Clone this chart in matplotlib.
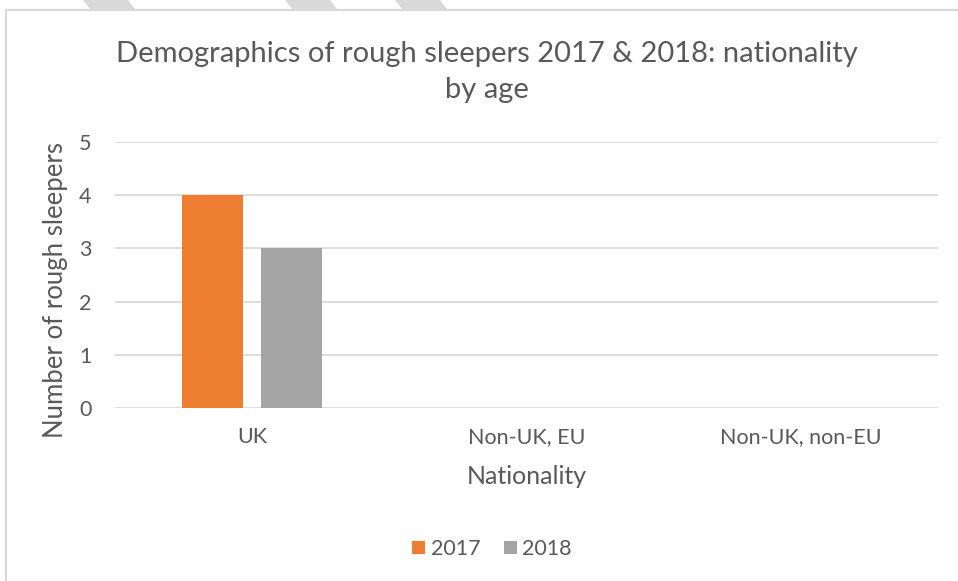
import matplotlib
matplotlib.use("Agg")
import matplotlib.pyplot as plt
from matplotlib.patches import Polygon, Rectangle
import numpy as np

categories = ["UK", "Non-UK, EU", "Non-UK, non-EU"]
series_names = ["2017", "2018"]
values_2017 = [4, 0, 0]
values_2018 = [3, 0, 0]
yticks = [0, 1, 2, 3, 4, 5]

title = "Demographics of rough sleepers 2017 & 2018: nationality\nby age"
xlabel = "Nationality"
ylabel = "Number of rough sleepers"

colors = ["#ED7D31", "#A5A5A5"]
text_color = "#595959"
grid_color = "#D9D9D9"

plt.rcParams['font.family'] = ['Lato', 'DejaVu Sans']

W, H = 958, 581
fig = plt.figure(figsize=(W / 100, H / 100), dpi=100)

# decorative stripes at top and frame
for x0 in [83, 285, 395]:
    fig.patches.append(Polygon([[(x0) / W, 1], [(x0 + 45) / W, 1],
                                [(x0 + 52) / W, 1 - 9 / H], [(x0 + 7) / W, 1 - 9 / H]],
                               closed=True, transform=fig.transFigure,
                               facecolor="#D9D9D9", edgecolor="none"))
fig.patches.append(Rectangle((6 / W, -0.1), 1.2, (1 - 10 / H) + 0.1,
                             transform=fig.transFigure, facecolor="none",
                             edgecolor="#D9D9D9", linewidth=1.5))

ax = fig.add_axes([115 / W, 1 - 408 / H, (938 - 115) / W, (408 - 142) / H])
x = np.arange(len(categories))
bw = 0.222
off = 0.144
ax.bar(x - off, values_2017, bw, color=colors[0], label=series_names[0], zorder=3)
ax.bar(x + off, values_2018, bw, color=colors[1], label=series_names[1], zorder=3)

ax.set_xlim(-0.5, len(categories) - 0.5)
ax.set_ylim(0, 5)
ax.set_yticks(yticks)
ax.set_yticklabels([str(t) for t in yticks])
ax.set_xticks(x)
ax.set_xticklabels(categories)
ax.grid(axis="y", color=grid_color, linewidth=1.3, zorder=0)
ax.set_axisbelow(True)
for s in ax.spines.values():
    s.set_visible(False)
ax.tick_params(axis="both", length=0, colors=text_color, labelsize=15.5)
ax.tick_params(axis="y", pad=17)
ax.tick_params(axis="x", pad=14)

ax.set_xlabel(xlabel, fontsize=18, color=text_color)
ax.xaxis.set_label_coords(0.5, -0.215)
ax.set_ylabel(ylabel, fontsize=18.5, color=text_color)
ax.yaxis.set_label_coords(-0.057, 0.444)

fig.text(487 / W, 1 - 72 / H, title, ha="center", va="center", fontsize=21,
         color=text_color, linespacing=1.45)

leg = fig.legend(loc="center", bbox_to_anchor=(492 / W, 1 - 549 / H), ncol=2,
                 frameon=False, fontsize=15.5, handlelength=0.6, handleheight=0.6,
                 handletextpad=0.25, columnspacing=1.1)
for t in leg.get_texts():
    t.set_color(text_color)

fig.savefig("out.png", dpi=100)
